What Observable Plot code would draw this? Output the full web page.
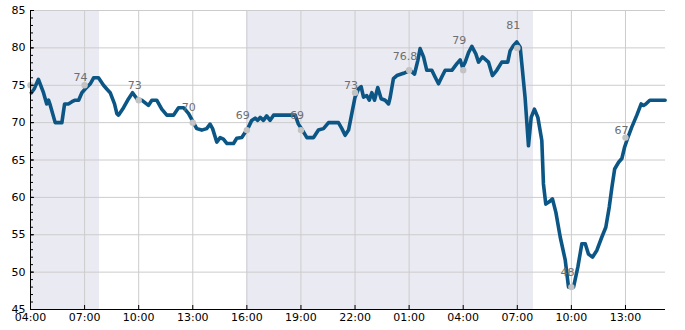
<!DOCTYPE html>
<html>
<head>
<meta charset="utf-8">
<script src="https://cdn.jsdelivr.net/npm/d3@7"></script>
<script src="https://cdn.jsdelivr.net/npm/@observablehq/plot@0.6"></script>
<style>
  html, body { margin: 0; padding: 0; background: #fff; }
  #chart svg { display: block; }
</style>
</head>
<body>
<div id="chart"></div>
<script>
// Hours after 04:00 on day one, and the value at each time
const lineHours = [0.05,0.2,0.44,0.72,0.9,1.0,1.1,1.37,1.74,1.89,2.1,2.3,2.48,2.67,2.85,3.03,3.32,3.5,3.77,4.05,4.23,4.42,4.66,4.79,4.88,5.16,5.44,5.66,5.9,6.17,6.54,6.73,7.0,7.28,7.56,7.93,8.21,8.49,8.77,9.04,9.22,9.5,9.77,9.96,10.1,10.33,10.52,10.7,10.9,11.26,11.44,11.72,11.91,12.09,12.27,12.46,12.6,12.74,12.92,13.1,13.29,13.48,14.68,14.86,15.08,15.33,15.7,15.97,16.25,16.53,17.08,17.27,17.45,17.64,17.82,18.0,18.19,18.34,18.47,18.65,18.79,18.93,19.08,19.26,19.45,19.67,19.86,19.95,20.13,20.32,20.69,21.06,21.3,21.48,21.61,21.8,21.98,22.26,22.44,22.63,22.81,23.0,23.37,23.65,23.83,23.96,24.11,24.3,24.48,24.7,24.85,25.07,25.4,25.62,25.86,26.14,26.47,26.6,26.78,26.97,27.16,27.25,27.43,27.62,27.77,27.95,28.14,28.36,28.45,28.58,28.77,28.95,29.14,29.38,29.66,29.84,30.12,30.36,30.58,30.77,30.95,31.17,31.41,31.69,31.91,32.1,32.25,32.4,32.62,32.8,32.95,33.13,33.35,33.63,33.87,34.0,34.13,34.35,35.2];
const lineValues = [74,74.5,75.8,74,72.5,73,72.3,70,70,72.5,72.5,72.8,73,73,74,74.5,75.2,76,76,75,74.5,74,72.5,71.2,71,72,73.2,74,73.2,73,72.3,73,73,71.8,71,71,72,72,71.2,70,69.2,69,69.2,69.8,69.2,67.4,68,67.8,67.2,67.2,67.9,68,68.7,69.4,70.3,70.6,70.3,70.7,70.3,70.9,70.3,71,71,69.8,69,68,68,69,69.2,70,70,69.2,68.3,69,71.2,73.4,74.5,74.8,73.4,73.6,73,74,73,74.7,73.2,73,72.5,73.4,75.9,76.3,76.6,77,76.5,78.3,79.9,78.8,77,77,76.1,75.2,76.1,77,77,77.9,78.4,77.4,78.1,79.4,80.2,79.2,78.1,78.8,78.1,76.3,77,78.1,78.1,79.6,80.3,80.8,80.1,77.9,73.4,66.9,70.7,71.8,70.7,67.6,61.8,59.1,59.4,59.8,58,54.7,51.6,48,48,50.7,53.8,53.8,52.4,52,52.9,54.7,56,58.7,61.4,63.8,64.7,65.2,66.7,68,69.4,71,72.5,72.3,72.5,73,73];

// Grey markers every three hours and their labels
const markerHours = [0,3,6,9,12,15,18,21,24,27,30,33];
const markerValues = [75,75,73,70,69,69,74,77,77,80,48,68];
const markerLabels = ["",  "74","73","70","69","69","73","76.8","79","81","48","67"];
const labelValues = [null,74,73,70,69,69,73,76.8,79,81,48,67];

// Shaded periods (hours after 04:00 on day one)
const bandStart = [0, 12];
const bandEnd = [3.83, 27.9];

// Axes
const xTickHours = [0,3,6,9,12,15,18,21,24,27,30,33];
const xEndHour = 35.22;
const yMajorTicks = [45,50,55,60,65,70,75,80,85];
const yMinorTicks = d3.range(45, 86, 1);

const startMs = Date.UTC(2024, 0, 1, 4, 0);
const toDate = h => new Date(startMs + h * 3600e3);
const fmt = d3.utcFormat("%H:%M");

const lineData = lineHours.map((h, i) => ({t: toDate(h), v: lineValues[i]}));
const markers = markerHours.map((h, i) => ({t: toDate(h), v: markerValues[i], label: markerLabels[i], lv: labelValues[i]}));
const bands = bandStart.map((s, i) => ({x1: toDate(s), x2: toDate(bandEnd[i])}));
const xTicks = xTickHours.map(toDate);

const chart = Plot.plot({
  width: 685,
  height: 330,
  marginLeft: 30,
  marginRight: 20,
  marginTop: 10,
  marginBottom: 21,
  style: {fontFamily: "DejaVu Sans", fontSize: "11px", background: "#fff", color: "#000"},
  x: {type: "utc", domain: [toDate(0), toDate(xEndHour)]},
  y: {domain: [45, 85]},
  marks: [
    Plot.rect(bands, {x1: "x1", x2: "x2", fill: "#eaeaf2"}),
    Plot.gridX(xTicks, {stroke: "#cccccc", strokeOpacity: 1, strokeWidth: 1}),
    Plot.gridY(yMajorTicks, {stroke: "#cccccc", strokeOpacity: 1, strokeWidth: 1}),
    Plot.line(lineData, {x: "t", y: "v", stroke: "#0b5685", strokeWidth: 3.6, strokeLinejoin: "round", strokeLinecap: "round"}),
    Plot.dot(markers, {x: "t", y: "v", r: 3.2, fill: "#c3c3c3", stroke: "none"}),
    Plot.text(markers.filter(d => d.label !== ""), {x: "t", y: "lv", text: "label", dy: -15, dx: -4, fill: "#6e6e6e", fontSize: 11}),
    Plot.axisY(yMinorTicks, {tickSize: -3, tickFormat: () => "", stroke: "#000"}),
    Plot.axisY(yMajorTicks, {tickSize: -4, tickPadding: 9, tickFormat: d => d, stroke: "#000", fill: "#000"}),
    Plot.axisX(xTicks, {tickSize: -4, tickPadding: 8, tickFormat: fmt, stroke: "#000", fill: "#000"}),
    Plot.ruleX([toDate(0)], {stroke: "#000", strokeWidth: 1}),
    Plot.ruleY([45], {stroke: "#000", strokeWidth: 1})
  ]
});
document.getElementById("chart").appendChild(chart);
</script>
</body>
</html>
